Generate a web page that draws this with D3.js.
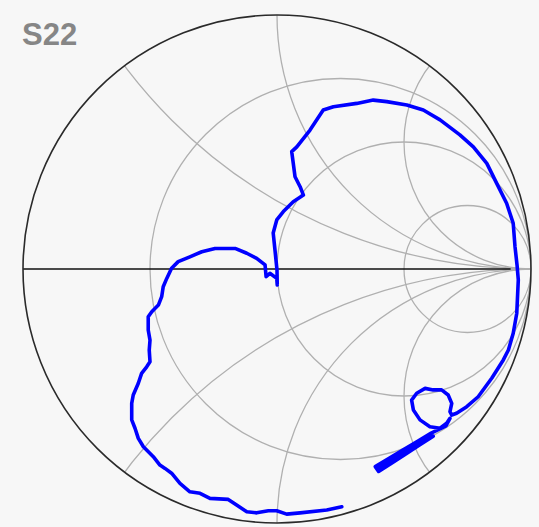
<!DOCTYPE html>
<html>
<head>
<meta charset="utf-8">
<script src="https://cdn.jsdelivr.net/npm/d3@7"></script>
<style>
  html, body { margin: 0; padding: 0; background: #f7f7f7; }
  svg { display: block; }
</style>
</head>
<body>
<div id="chart"></div>
<script>
var gammaRe = [0.255, 0.196, 0.091, 0.038, -0.001, -0.034, -0.080, -0.119, -0.159, -0.192,
  -0.264, -0.303, -0.343, -0.382, -0.415, -0.441, -0.461, -0.487, -0.526, -0.546,
  -0.559, -0.572, -0.572, -0.566, -0.546, -0.533, -0.513, -0.500, -0.503, -0.500,
  -0.507, -0.507, -0.493, -0.467, -0.454, -0.448, -0.434, -0.415, -0.389, -0.343,
  -0.296, -0.244, -0.165, -0.119, -0.080, -0.047, -0.043, -0.028, -0.001, 0.001,
  0.000, -0.008, -0.015, -0.001, 0.025, 0.064, 0.104, 0.091, 0.071, 0.064,
  0.058, 0.078, 0.130, 0.182, 0.222, 0.314, 0.379, 0.432, 0.511, 0.576,
  0.642, 0.720, 0.773, 0.826, 0.865, 0.904, 0.930, 0.937, 0.945, 0.950,
  0.944, 0.930, 0.911, 0.891, 0.846, 0.792, 0.747, 0.707, 0.688, 0.681,
  0.688, 0.674, 0.648, 0.615, 0.583, 0.550, 0.530, 0.537, 0.563, 0.602,
  0.642, 0.668, 0.681, 0.665, 0.607, 0.552, 0.497, 0.443, 0.387, 0.400,
  0.454, 0.507, 0.561, 0.615, 0.584, 0.530, 0.475, 0.421, 0.394];
var gammaIm = [-0.936, -0.949, -0.960, -0.965, -0.952, -0.952, -0.960, -0.956, -0.929, -0.907,
  -0.903, -0.883, -0.877, -0.844, -0.804, -0.785, -0.772, -0.739, -0.700, -0.667,
  -0.627, -0.594, -0.529, -0.496, -0.450, -0.411, -0.385, -0.365, -0.319, -0.280,
  -0.240, -0.188, -0.168, -0.142, -0.109, -0.070, -0.037, 0.003, 0.029, 0.048,
  0.068, 0.081, 0.081, 0.062, 0.042, 0.016, -0.030, -0.017, -0.037, -0.063,
  -0.004, 0.075, 0.142, 0.193, 0.226, 0.265, 0.291, 0.324, 0.363, 0.416,
  0.462, 0.481, 0.547, 0.626, 0.639, 0.652, 0.665, 0.659, 0.646, 0.626,
  0.587, 0.528, 0.481, 0.416, 0.337, 0.259, 0.180, 0.088, 0.016, -0.043,
  -0.174, -0.253, -0.319, -0.358, -0.429, -0.503, -0.542, -0.568, -0.575, -0.562,
  -0.529, -0.496, -0.476, -0.476, -0.470, -0.489, -0.516, -0.555, -0.594, -0.621,
  -0.627, -0.607, -0.588, -0.618, -0.646, -0.679, -0.712, -0.744, -0.778, -0.797,
  -0.763, -0.728, -0.693, -0.658, -0.669, -0.703, -0.737, -0.770, -0.787];

// grid values of the Smith chart
var resistances = [1 / 3, 1, 3];
var reactances = [0.5, 1, 2, -0.5, -1, -2];
var title = "S22";

var width = 539, height = 527;
var cx = 277, cy = 269, R = 254;

var svg = d3.select("#chart")
    .append("svg")
    .attr("width", width)
    .attr("height", height);

svg.append("rect")
    .attr("width", width)
    .attr("height", height)
    .attr("fill", "#f7f7f7");

var x = d3.scaleLinear().domain([-1, 1]).range([cx - R, cx + R]);
var y = d3.scaleLinear().domain([-1, 1]).range([cy + R, cy - R]);
var len = function(v) { return x(v) - x(0); };

svg.append("clipPath")
    .attr("id", "unit")
    .append("circle")
    .attr("cx", x(0))
    .attr("cy", y(0))
    .attr("r", len(1));

var grid = svg.append("g")
    .attr("clip-path", "url(#unit)")
    .attr("fill", "none")
    .attr("stroke", "#b0b0b0")
    .attr("stroke-width", 1.3);

// constant resistance circles
grid.selectAll("circle.res")
    .data(resistances)
    .enter()
    .append("circle")
    .attr("class", "res")
    .attr("cx", function(r) { return x(r / (r + 1)); })
    .attr("cy", y(0))
    .attr("r", function(r) { return len(1 / (r + 1)); });

// constant reactance arcs
grid.selectAll("circle.reac")
    .data(reactances)
    .enter()
    .append("circle")
    .attr("class", "reac")
    .attr("cx", x(1))
    .attr("cy", function(v) { return y(1 / v); })
    .attr("r", function(v) { return len(1 / Math.abs(v)); });

// real axis
svg.append("line")
    .attr("x1", x(-1))
    .attr("x2", x(0.92))
    .attr("y1", y(0))
    .attr("y2", y(0))
    .attr("stroke", "#111")
    .attr("stroke-width", 1.6);

// outer circle
svg.append("circle")
    .attr("cx", x(0))
    .attr("cy", y(0))
    .attr("r", len(1))
    .attr("fill", "none")
    .attr("stroke", "#2a2a2a")
    .attr("stroke-width", 1.6);

var pts = gammaRe.map(function(d, i) { return [d, gammaIm[i]]; });

var line = d3.line()
    .x(function(d) { return x(d[0]); })
    .y(function(d) { return y(d[1]); });

svg.append("path")
    .datum(pts)
    .attr("d", line)
    .attr("fill", "none")
    .attr("stroke", "#0000ff")
    .attr("stroke-width", 3.6)
    .attr("stroke-linejoin", "round")
    .attr("stroke-linecap", "round");

svg.append("text")
    .attr("x", 22)
    .attr("y", 45)
    .attr("font-family", "Liberation Sans, Arial, sans-serif")
    .attr("font-weight", "bold")
    .attr("font-size", 31)
    .attr("fill", "#868686")
    .text(title);
</script>
</body>
</html>
